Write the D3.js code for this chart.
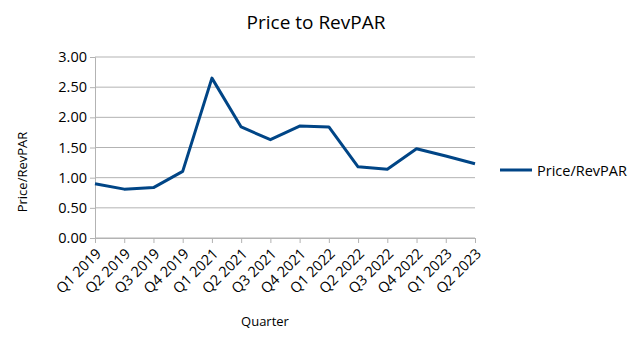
<!DOCTYPE html>
<html>
<head>
<meta charset="utf-8">
<script src="https://cdn.jsdelivr.net/npm/d3@7"></script>
<style>
  body { margin: 0; background: #fff; }
  text { font-family: "Open Sans", sans-serif; fill: #000; }
</style>
</head>
<body>
<svg id="chart" width="640" height="338"></svg>
<script>
var quarters = ["Q1 2019", "Q2 2019", "Q3 2019", "Q4 2019", "Q1 2021", "Q2 2021", "Q3 2021",
    "Q4 2021", "Q1 2022", "Q2 2022", "Q3 2022", "Q4 2022", "Q1 2023", "Q2 2023"];
var priceRevpar = [0.90, 0.81, 0.835, 1.105, 2.65, 1.84, 1.63, 1.856, 1.84, 1.18, 1.14, 1.48, 1.36, 1.23];
var yTicks = [0, 0.5, 1, 1.5, 2, 2.5, 3];

var svg = d3.select("#chart");
var plotLeft = 95, plotRight = 475, plotTop = 57, plotBottom = 238;

var x = d3.scalePoint().domain(quarters).range([plotLeft, plotRight]);
var y = d3.scaleLinear().domain([0, 3]).range([plotBottom, plotTop]);

// title
svg.append("text")
    .attr("x", 316).attr("y", 29)
    .attr("text-anchor", "middle")
    .style("font-size", "19px")
    .text("Price to RevPAR");

// gridlines
svg.append("g")
    .selectAll("line")
    .data(yTicks)
    .enter()
    .append("line")
    .attr("x1", plotLeft).attr("x2", plotRight)
    .attr("y1", (d) => y(d)).attr("y2", (d) => y(d))
    .attr("stroke", "#b3b3b3").attr("stroke-width", 1);

// y axis
var yAxis = svg.append("g")
    .attr("transform", `translate(${plotLeft},0)`)
    .call(d3.axisLeft(y).tickValues(yTicks).tickFormat(d3.format(".2f")).tickSize(5).tickPadding(3));
yAxis.select(".domain").attr("stroke", "#b3b3b3");
yAxis.selectAll(".tick line").attr("stroke", "#b3b3b3");
yAxis.selectAll("text").style("font-size", "14.5px").attr("fill", "#000");

// x axis
var xAxis = svg.append("g")
    .attr("transform", `translate(0,${plotBottom})`)
    .call(d3.axisBottom(x).tickSize(5).tickSizeOuter(0));
xAxis.select(".domain").attr("stroke", "#b3b3b3");
xAxis.selectAll(".tick line").attr("stroke", "#b3b3b3");
xAxis.selectAll("text")
    .style("font-size", "14.5px")
    .attr("fill", "#000")
    .attr("text-anchor", "end")
    .attr("dy", "0.35em")
    .attr("x", 0).attr("y", 0)
    .attr("transform", "translate(3,13) rotate(-45)");

// axis titles
svg.append("text")
    .attr("transform", "translate(27,172) rotate(-90)")
    .attr("text-anchor", "middle")
    .style("font-size", "13px")
    .text("Price/RevPAR");

svg.append("text")
    .attr("x", 265).attr("y", 326)
    .attr("text-anchor", "middle")
    .style("font-size", "13px")
    .text("Quarter");

// line
var line = d3.line()
    .x((d, i) => x(quarters[i]))
    .y((d) => y(d));

svg.append("path")
    .datum(priceRevpar)
    .attr("d", line)
    .attr("fill", "none")
    .attr("stroke", "#004586")
    .attr("stroke-width", 3)
    .attr("stroke-linejoin", "round");

// legend
svg.append("line")
    .attr("x1", 500).attr("x2", 532)
    .attr("y1", 170).attr("y2", 170)
    .attr("stroke", "#004586").attr("stroke-width", 3);
svg.append("text")
    .attr("x", 537).attr("y", 176)
    .style("font-size", "14.5px")
    .text("Price/RevPAR");
</script>
</body>
</html>
